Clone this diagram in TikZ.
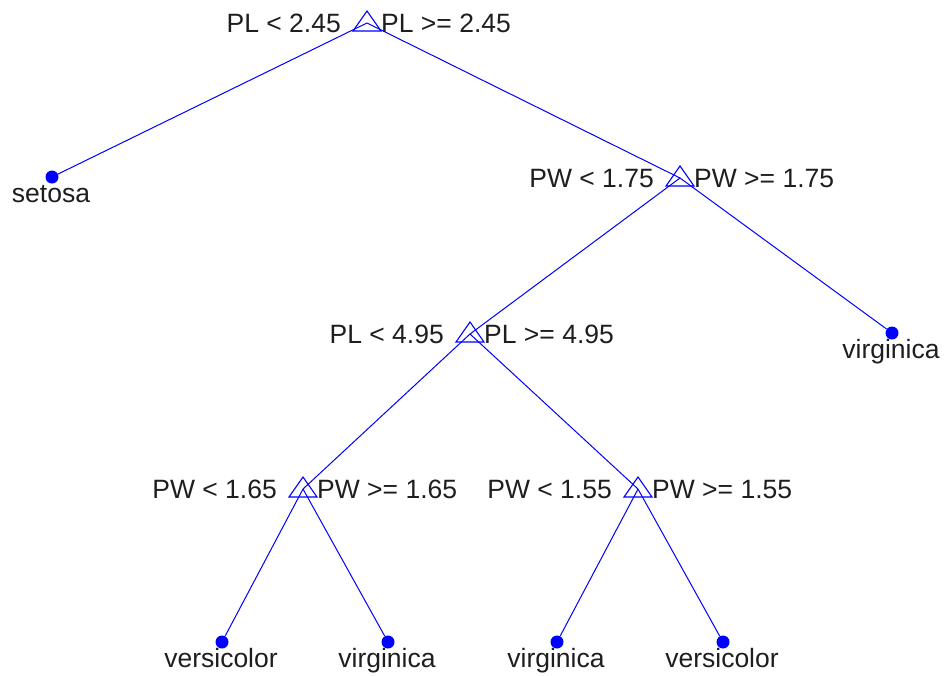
\documentclass[tikz,border=0pt]{standalone}
\usepackage{fontspec}
\setmainfont{Liberation Sans}
\definecolor{tblue}{RGB}{0,0,255}
\definecolor{tgray}{RGB}{30,30,30}
\tikzset{treefig/.style={x=1pt,y=-1pt,font=\fontsize{26.5}{30}\selectfont}}
\tikzset{edge/.style={tblue,line width=1pt},
         cut/.style={tblue,line width=1.1pt},
         leaf/.style={circle,fill=tblue,inner sep=0pt,minimum size=13pt},
         ltext/.style={tgray,anchor=base east,inner sep=0pt},
         rtext/.style={tgray,anchor=base west,inner sep=0pt},
         ctext/.style={tgray,anchor=base,inner sep=0pt}}

\begin{document}
\begin{tikzpicture}[treefig]
    \useasboundingbox (0,0) rectangle (944,675);
    % split points
    \coordinate (pl1) at (367,23);
    \coordinate (pw1) at (680,178);
    \coordinate (pl2) at (470,334);
    \coordinate (pw2) at (303,489);
    \coordinate (pw3) at (638,489);
    % leaves
    \node[leaf] (setosa) at (52,177) {};
    \node[leaf] (virg1)  at (892,333) {};
    \node[leaf] (vers1)  at (222,642) {};
    \node[leaf] (virg2)  at (388,642) {};
    \node[leaf] (virg3)  at (557,642) {};
    \node[leaf] (vers2)  at (723,642) {};
    % branches
    \draw[edge] (pl1) -- (setosa) (pl1) -- (pw1);
    \draw[edge] (pw1) -- (pl2) (pw1) -- (virg1);
    \draw[edge] (pl2) -- (pw2) (pl2) -- (pw3);
    \draw[edge] (pw2) -- (vers1) (pw2) -- (virg2);
    \draw[edge] (pw3) -- (virg3) (pw3) -- (vers2);
    % split markers and rules
    \foreach \s/\a/\b in {pl1/PL < 2.45/PL >= 2.45,
                          pw1/PW < 1.75/PW >= 1.75,
                          pl2/PL < 4.95/PL >= 4.95,
                          pw2/PW < 1.65/PW >= 1.65,
                          pw3/PW < 1.55/PW >= 1.55} {
      \draw[cut] (\s) ++(-14,8) -- ++(14,-20) -- ++(14,20) -- cycle;
      \node[ltext] (\s-l) at ([xshift=-26pt,yshift=-9pt]\s) {\a};
      \node[rtext] (\s-r) at ([xshift=14pt,yshift=-9pt]\s) {\b};
    }
    % class names
    \foreach \l/\t in {setosa/setosa, virg1/virginica, vers1/versicolor,
                       virg2/virginica, virg3/virginica, vers2/versicolor}
      \node[ctext] (\l-t) at ([xshift=-1pt,yshift=-25pt]\l) {\t};
\end{tikzpicture}
\end{document}
